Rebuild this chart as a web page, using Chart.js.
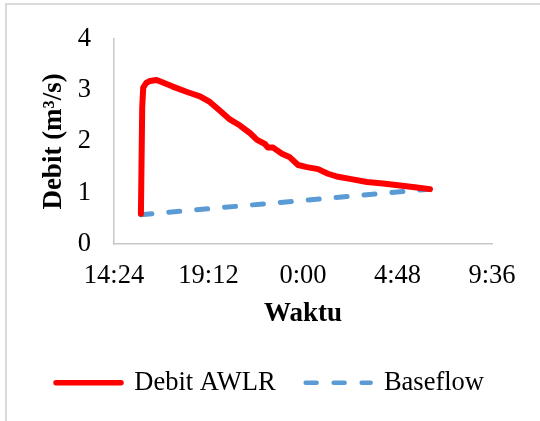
<!DOCTYPE html>
<html lang="id">
<head>
    <meta charset="UTF-8">
    <title>Debit AWLR dan Baseflow</title>
    <script src="https://cdn.jsdelivr.net/npm/chart.js"></script>
    <style>
        body {
            margin: 0;
            background: #fff;
            overflow: hidden;
        }
        .wrap {
            position: relative;
            width: 540px;
            height: 421px;
        }
        .frame {
            position: absolute;
            left: 5px;
            top: 3px;
            width: 600px;
            height: 500px;
            border-left: 2px solid #d9d9d9;
            border-top: 2px solid #d9d9d9;
            pointer-events: none;
        }
        canvas {
            position: absolute;
            left: 0;
            top: 0;
        }
    </style>
</head>
<body>

<div class="wrap">
    <canvas id="debitChart" width="540" height="421"></canvas>
    <div class="frame"></div>
</div>

<script>
    // clock times, running past midnight
    const awlrTime = ['15:46', '15:50', '15:53', '16:02', '16:14', '16:34', '17:23', '18:09', '18:46',
        '19:16', '19:47', '20:17', '20:48', '21:19', '21:40', '22:04', '22:13', '22:29', '22:56',
        '23:20', '23:45', '0:12', '0:46', '1:16', '1:47', '2:23', '3:15', '4:04', '4:56', '5:47', '6:27'];
    const awlrDebit = [0.59, 2.67, 3.05, 3.14, 3.18, 3.20, 3.07, 2.96, 2.88,
        2.77, 2.60, 2.43, 2.31, 2.16, 2.03, 1.95, 1.88, 1.88, 1.76,
        1.69, 1.54, 1.50, 1.46, 1.37, 1.31, 1.27, 1.21, 1.18, 1.14, 1.10, 1.07];

    const baseTime = ['15:46', '6:27'];
    const baseDebit = [0.57, 1.07];

    // minutes from midnight of the first day
    const xTickValues = [864, 1152, 1440, 1728, 2016];
    const xTickLabels = ['14:24', '19:12', '0:00', '4:48', '9:36'];
    const yTickMin = 0, yTickMax = 4, yTickStep = 1;

    const serif = "'Liberation Serif', 'Times New Roman', serif";

    function toMinutes(times) {
        let day = 0, prev = -1;
        return times.map(t => {
            let [h, m] = t.split(':').map(Number);
            let v = h * 60 + m;
            if (v < prev) day++;
            prev = v;
            return v + day * 1440;
        });
    }

    function toPoints(times, values) {
        let mins = toMinutes(times);
        return mins.map((x, i) => ({ x: x, y: values[i] }));
    }

    const ctx = document.getElementById('debitChart').getContext('2d');

    new Chart(ctx, {
        type: 'line',
        data: {
            datasets: [
                {
                    label: 'Debit AWLR',
                    data: toPoints(awlrTime, awlrDebit),
                    borderColor: '#ff0000',
                    backgroundColor: '#ff0000',
                    borderWidth: 6,
                    borderJoinStyle: 'round',
                    borderCapStyle: 'round',
                    pointRadius: 0,
                    tension: 0,
                    legendWidth: 5.5
                },
                {
                    label: 'Baseflow',
                    data: toPoints(baseTime, baseDebit),
                    borderColor: '#5b9bd5',
                    backgroundColor: '#5b9bd5',
                    borderWidth: 5,
                    borderDash: [11, 17],
                    borderCapStyle: 'round',
                    pointRadius: 0,
                    legendWidth: 4.5
                }
            ]
        },
        options: {
            responsive: false,
            animation: false,
            devicePixelRatio: 1,
            layout: {
                padding: { left: 0, right: 0, top: 33, bottom: 15 }
            },
            plugins: {
                tooltip: { enabled: false },
                legend: {
                    position: 'bottom',
                    labels: {
                        usePointStyle: true,
                        pointStyleWidth: 65,
                        padding: 30,
                        color: '#000',
                        font: { family: serif, size: 26.5 },
                        generateLabels: chart => chart.data.datasets.map((ds, i) => ({
                            text: ds.label,
                            datasetIndex: i,
                            strokeStyle: ds.borderColor,
                            fillStyle: ds.borderColor,
                            lineWidth: ds.legendWidth,
                            lineDash: ds.borderDash || [],
                            lineCap: 'round',
                            pointStyle: 'line',
                            fontColor: '#000',
                            hidden: false
                        }))
                    }
                }
            },
            scales: {
                x: {
                    type: 'linear',
                    position: 'bottom',
                    min: xTickValues[0],
                    max: xTickValues[xTickValues.length - 1],
                    afterBuildTicks: s => { s.ticks = xTickValues.map(v => ({ value: v })); },
                    afterFit: s => { s.height = 95.5; },
                    grid: { display: false, drawTicks: false },
                    border: { color: '#c8c8c8', width: 1.5 },
                    ticks: {
                        padding: 16,
                        color: '#000',
                        maxRotation: 0,
                        autoSkip: false,
                        font: { family: serif, size: 26.5 },
                        callback: v => xTickLabels[xTickValues.indexOf(v)]
                    },
                    title: {
                        display: true,
                        text: 'Waktu',
                        color: '#000',
                        font: { family: serif, size: 27, weight: 'bold' },
                        padding: { top: 0, bottom: 9.5 }
                    }
                },
                y: {
                    min: yTickMin,
                    max: yTickMax,
                    afterFit: s => { s.width = 114; },
                    grid: { display: false, drawTicks: false },
                    border: { color: '#c8c8c8', width: 1.5 },
                    ticks: {
                        stepSize: yTickStep,
                        padding: 23,
                        color: '#000',
                        font: { family: serif, size: 26.5 }
                    },
                    title: {
                        display: true,
                        text: 'Debit (m³/s)',
                        color: '#000',
                        font: { family: serif, size: 27, weight: 'bold' },
                        padding: { top: 38, bottom: 0 }
                    }
                },
                // empty right-hand margin, so the legend stays centred on the whole width
                yRight: {
                    type: 'linear',
                    position: 'right',
                    afterFit: s => { s.width = 48; },
                    grid: { display: false, drawTicks: false },
                    border: { display: false },
                    ticks: { display: false }
                }
            }
        }
    });
</script>

</body>
</html>
